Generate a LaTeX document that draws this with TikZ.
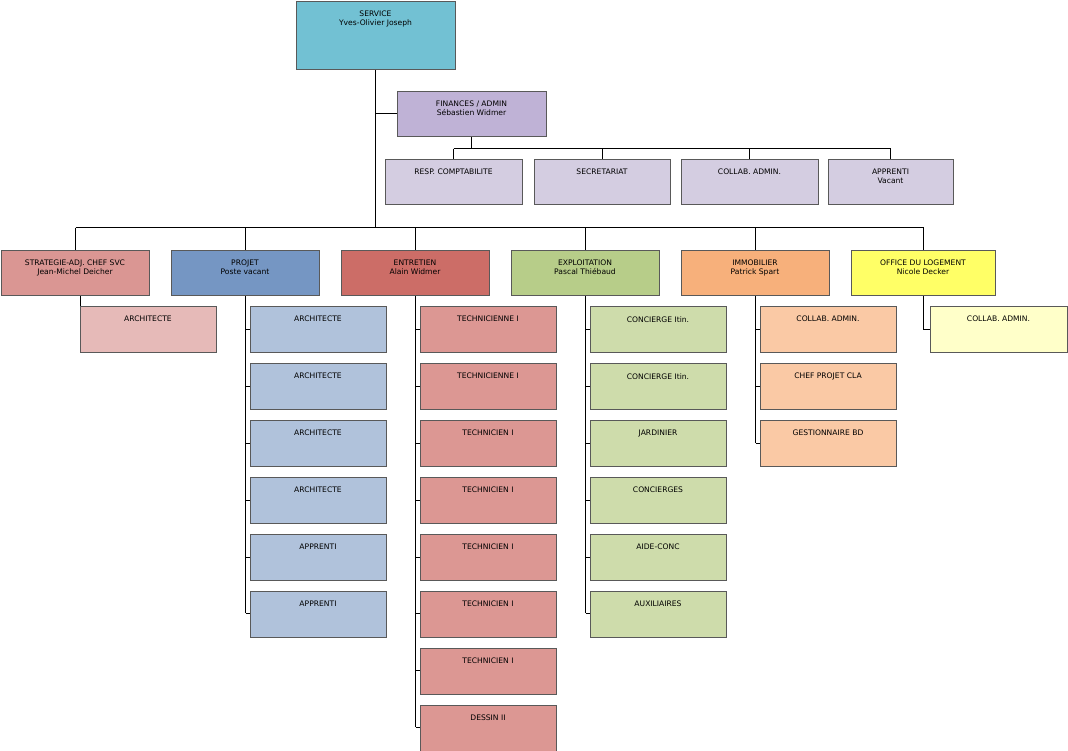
\documentclass[tikz,border=0pt]{standalone}
\usepackage{fontspec}
\setmainfont{DejaVu Sans}
\definecolor{cserv}{HTML}{72C1D3}
\definecolor{cfin}{HTML}{BFB2D6}
\definecolor{cfinc}{HTML}{D4CDE1}
\definecolor{cstr}{HTML}{DA9693}
\definecolor{cstrc}{HTML}{E6BAB8}
\definecolor{cpro}{HTML}{7596C3}
\definecolor{cproc}{HTML}{B0C2DB}
\definecolor{cent}{HTML}{CC6D67}
\definecolor{centc}{HTML}{DC9793}
\definecolor{cexp}{HTML}{B7CD89}
\definecolor{cexpc}{HTML}{CEDCAB}
\definecolor{cimm}{HTML}{F7B07B}
\definecolor{cimmc}{HTML}{FAC9A5}
\definecolor{coff}{HTML}{FFFF66}
\definecolor{coffc}{HTML}{FFFFC9}
\begin{document}
\begin{tikzpicture}[x=1pt,y=-1pt,
  bx/.style={draw=gray!70!black,line width=0.6pt,font=\fontsize{7.6}{9}\selectfont,align=center,inner sep=0pt},
  ln/.style={line width=0.6pt}]
\useasboundingbox (0,0) rectangle (1068,750);
\newcommand{\bbox}[7]{% name,x1,y1,x2,y2,color,text
  \fill[#6] (#2,#3) rectangle (#4,#5);
  \draw[bx] (#2,#3) rectangle (#4,#5);
  \node[bx,draw=none,anchor=north] (#1) at ({(#2+#4)/2},{#3+10}) {#7};
  \coordinate (#1t) at ({(#2+#4)/2},#3);
  \coordinate (#1b) at ({(#2+#4)/2},#5);
  \coordinate (#1l) at (#2,{(#3+#5)/2});}
% lines first
\draw[ln] (375.5,69) -- (375.5,227.5);
\draw[ln] (375.5,113.5) -- (397,113.5);
\draw[ln] (471.5,136) -- (471.5,148.5);
\draw[ln] (453.5,148.5) -- (890.5,148.5);
\foreach \x in {453.5,602.5,749.5,890.5} \draw[ln] (\x,148.5) -- (\x,159);
\draw[ln] (75.5,227.5) -- (923.5,227.5);
\foreach \x in {75.5,245.5,415.5,585.5,755.5,923.5} \draw[ln] (\x,227.5) -- (\x,250);
\draw[ln] (80.5,295) -- (80.5,329);
\draw[ln] (245.5,295) -- (245.5,613);
\foreach \y in {329,386,443,500,557,613} \draw[ln] (245.5,\y) -- (250,\y);
\draw[ln] (415.5,295) -- (415.5,727);
\foreach \y in {329,386,443,500,557,613,670,727} \draw[ln] (415.5,\y) -- (420,\y);
\draw[ln] (585.5,295) -- (585.5,613);
\foreach \y in {329,386,443,500,557,613} \draw[ln] (585.5,\y) -- (590,\y);
\draw[ln] (755.5,295) -- (755.5,443);
\foreach \y in {329,386,443} \draw[ln] (755.5,\y) -- (760,\y);
\draw[ln] (923.5,295) -- (923.5,329) -- (930,329);
% boxes
\bbox{serv}{296}{1}{455}{69}{cserv}{SERVICE\\Yves-Olivier Joseph}
\bbox{fin}{397}{91}{546}{136}{cfin}{FINANCES / ADMIN\\Sébastien Widmer}
\bbox{f1}{385}{159}{522}{204}{cfinc}{RESP. COMPTABILITE}
\bbox{f2}{534}{159}{670}{204}{cfinc}{SECRETARIAT}
\bbox{f3}{681}{159}{818}{204}{cfinc}{COLLAB. ADMIN.}
\bbox{f4}{828}{159}{953}{204}{cfinc}{APPRENTI\\Vacant}
\bbox{str}{1}{250}{149}{295}{cstr}{STRATEGIE-ADJ. CHEF SVC\\Jean-Michel Deicher}
\bbox{pro}{171}{250}{319}{295}{cpro}{PROJET\\Poste vacant}
\bbox{ent}{341}{250}{489}{295}{cent}{ENTRETIEN\\Alain Widmer}
\bbox{exp}{511}{250}{659}{295}{cexp}{EXPLOITATION\\Pascal Thiébaud}
\bbox{imm}{681}{250}{829}{295}{cimm}{IMMOBILIER\\Patrick Spart}
\bbox{off}{851}{250}{995}{295}{coff}{OFFICE DU LOGEMENT\\Nicole Decker}
\bbox{s1}{80}{306}{216}{352}{cstrc}{ARCHITECTE}
\foreach \t [count=\i from 0] in {ARCHITECTE,ARCHITECTE,ARCHITECTE,ARCHITECTE,APPRENTI,APPRENTI}
  {\pgfmathtruncatemacro{\yy}{306+57*\i}\bbox{p\i}{250}{\yy}{386}{\yy+46}{cproc}{\t}}
\foreach \t [count=\i from 0] in {TECHNICIENNE I,TECHNICIENNE I,TECHNICIEN I,TECHNICIEN I,TECHNICIEN I,TECHNICIEN I,TECHNICIEN I,DESSIN II}
  {\pgfmathtruncatemacro{\yy}{306+57*\i}\bbox{e\i}{420}{\yy}{556}{\yy+46}{centc}{\t}}
\foreach \t [count=\i from 0] in {CONCIERGE Itin.,CONCIERGE Itin.,JARDINIER,CONCIERGES,AIDE-CONC,AUXILIAIRES}
  {\pgfmathtruncatemacro{\yy}{306+57*\i}\bbox{x\i}{590}{\yy}{726}{\yy+46}{cexpc}{\t}}
\foreach \t [count=\i from 0] in {COLLAB. ADMIN.,CHEF PROJET CLA,GESTIONNAIRE BD}
  {\pgfmathtruncatemacro{\yy}{306+57*\i}\bbox{m\i}{760}{\yy}{896}{\yy+46}{cimmc}{\t}}
\bbox{o1}{930}{306}{1067}{352}{coffc}{COLLAB. ADMIN.}
\end{tikzpicture}
\end{document}
